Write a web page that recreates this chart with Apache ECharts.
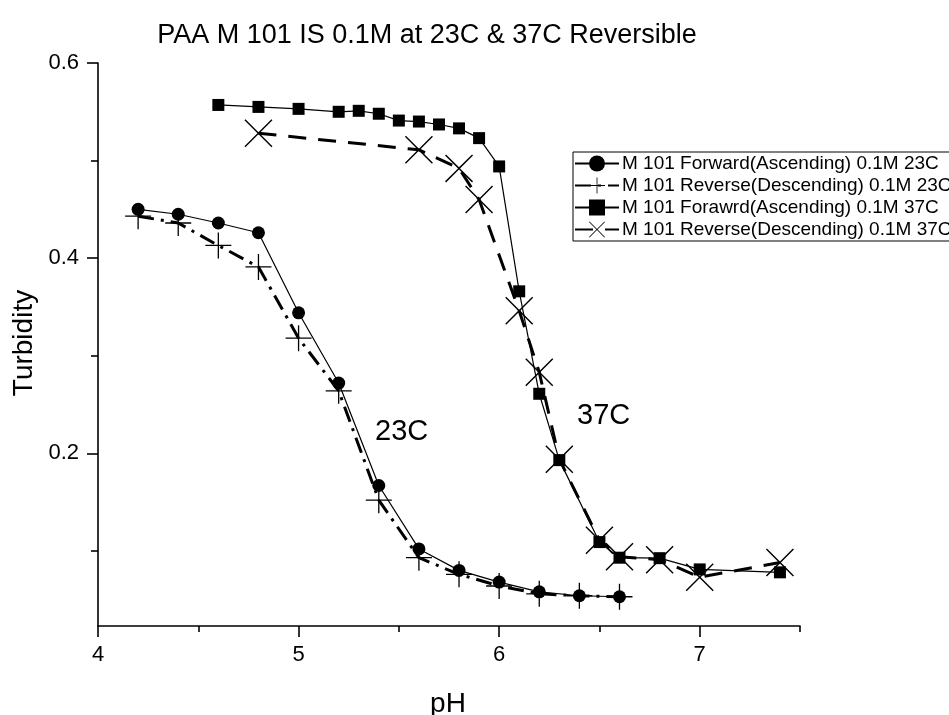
<!DOCTYPE html>
<html>
<head>
<meta charset="utf-8">
<script src="https://cdn.jsdelivr.net/npm/echarts@6/dist/echarts.min.js"></script>
<style>html,body{margin:0;padding:0;background:#fff;}#c{width:949px;height:715px;}</style>
</head>
<body>
<div id="c"></div>
<script>
// ---- data ----
const ph23 = [4.2, 4.4, 4.6, 4.8, 5.0, 5.2, 5.4, 5.6, 5.8, 6.0, 6.2, 6.4, 6.6];
const fwd23 = [0.450, 0.445, 0.436, 0.426, 0.344, 0.272, 0.167, 0.102, 0.080, 0.068, 0.058, 0.054, 0.053];
const rev23 = [0.443, 0.436, 0.413, 0.391, 0.318, 0.264, 0.152, 0.093, 0.076, 0.064, 0.056, 0.054, 0.053];
const phFwd37 = [4.6, 4.8, 5.0, 5.2, 5.3, 5.4, 5.5, 5.6, 5.7, 5.8, 5.9, 6.0, 6.1, 6.2, 6.3, 6.5, 6.6, 6.8, 7.0, 7.4];
const fwd37 = [0.557, 0.555, 0.553, 0.550, 0.551, 0.548, 0.541, 0.540, 0.537, 0.533, 0.523, 0.494, 0.366, 0.261, 0.193, 0.109, 0.093, 0.0925, 0.081, 0.078];
const phRev37 = [4.8, 5.6, 5.8, 5.9, 6.1, 6.2, 6.3, 6.5, 6.6, 6.8, 7.0, 7.4];
const rev37 = [0.528, 0.511, 0.492, 0.460, 0.346, 0.283, 0.194, 0.111, 0.094, 0.091, 0.073, 0.088];
const seriesNames = [
  'M 101 Forward(Ascending) 0.1M 23C',
  'M 101 Reverse(Descending) 0.1M 23C',
  'M 101 Forawrd(Ascending) 0.1M 37C',
  'M 101 Reverse(Descending) 0.1M 37C'
];
const xMajor = [4, 5, 6, 7];
const xMinor = [4.5, 5.5, 6.5, 7.5];
const yMajor = [0.2, 0.4, 0.6];
const yMinor = [0.1, 0.3, 0.5];
const titleText = 'PAA M 101 IS 0.1M at 23C & 37C Reversible';
const xName = 'pH';
const yName = 'Turbidity';
const notes = ['23C', '37C'];

// ---- styling ----
const FONT = 'Liberation Sans, Arial, sans-serif';
const plusPath = 'path://M47.5,0H52.5V47.5H100V52.5H52.5V100H47.5V52.5H0V47.5H47.5Z';
const d = 3.6;
const xPath = `path://M0,${d}L${d},0L50,${50 - d}L${100 - d},0L100,${d}L${50 + d},50L100,${100 - d}L${100 - d},100L50,${50 + d}L${d},100L0,${100 - d}L${50 - d},50Z`;

function pairs(xs, ys) { return xs.map((x, i) => [x, ys[i]]); }

const chart = echarts.init(document.getElementById('c'), null, { renderer: 'canvas' });
const axisCommon = { min: 4, max: 7.5, type: 'value' };
const yCommon = { min: 0.023, max: 0.6, type: 'value' };

chart.setOption({
  animation: false,
  backgroundColor: '#fff',
  textStyle: { fontFamily: FONT, color: '#000' },
  title: {
    text: titleText, left: 422, top: 17, textAlign: 'center',
    textStyle: { fontFamily: FONT, fontSize: 27, fontWeight: 'normal', color: '#000' }
  },
  grid: { left: 98, right: 149, top: 63, bottom: 89, containLabel: false },
  xAxis: [
    Object.assign({}, axisCommon, {
      position: 'bottom',
      axisLine: { show: true, lineStyle: { color: '#000', width: 1.6 } },
      axisTick: { show: true, customValues: xMajor, length: 11, lineStyle: { color: '#000', width: 1.6 } },
      axisLabel: { show: true, customValues: xMajor, margin: 18, fontFamily: FONT, fontSize: 22, color: '#000' },
      splitLine: { show: false }
    }),
    Object.assign({}, axisCommon, {
      position: 'bottom',
      axisLine: { show: false },
      axisTick: { show: true, customValues: xMinor, length: 6, lineStyle: { color: '#000', width: 1.6 } },
      axisLabel: { show: false },
      splitLine: { show: false }
    })
  ],
  yAxis: [
    Object.assign({}, yCommon, {
      position: 'left',
      axisLine: { show: true, lineStyle: { color: '#000', width: 1.6 } },
      axisTick: { show: true, customValues: yMajor, length: 11, lineStyle: { color: '#000', width: 1.6 } },
      axisLabel: { show: true, customValues: yMajor, margin: 19, fontFamily: FONT, fontSize: 22, color: '#000' },
      splitLine: { show: false }
    }),
    Object.assign({}, yCommon, {
      position: 'left',
      axisLine: { show: false },
      axisTick: { show: true, customValues: yMinor, length: 7, lineStyle: { color: '#000', width: 1.6 } },
      axisLabel: { show: false },
      splitLine: { show: false }
    })
  ],
  legend: {
    left: 573, top: 152, orient: 'vertical',
    itemWidth: 44, itemHeight: 20, itemGap: 3,
    padding: [2, 6, 2, 1],
    borderColor: '#000', borderWidth: 1,
    textStyle: { fontFamily: FONT, fontSize: 19, color: '#000', padding: [0, 0, 0, -2] },
    data: seriesNames
  },
  graphic: [
    { type: 'text', x: 24, y: 343, rotation: Math.PI / 2,
      style: { text: yName, font: '28px ' + FONT, fill: '#000', textAlign: 'center', textVerticalAlign: 'middle' } },
    { type: 'text', x: 448, y: 704,
      style: { text: xName, font: '28px ' + FONT, fill: '#000', textAlign: 'center', textVerticalAlign: 'middle' } },
    { type: 'text', x: 375, y: 432,
      style: { text: notes[0], font: '29px ' + FONT, fill: '#000', textAlign: 'left', textVerticalAlign: 'middle' } },
    { type: 'text', x: 577, y: 416,
      style: { text: notes[1], font: '29px ' + FONT, fill: '#000', textAlign: 'left', textVerticalAlign: 'middle' } }
  ],
  series: [
    {
      name: seriesNames[0], type: 'line', data: pairs(ph23, fwd23),
      symbol: 'circle', symbolSize: 13, z: 4,
      lineStyle: { color: '#000', width: 1.2, type: 'solid' },
      itemStyle: { color: '#000', borderWidth: 0 }
    },
    {
      name: seriesNames[1], type: 'line', data: pairs(ph23, rev23),
      symbol: plusPath, symbolSize: 26, z: 3,
      lineStyle: { color: '#000', width: 3, type: [16, 7, 3, 7] },
      itemStyle: { color: '#000', borderWidth: 0 }
    },
    {
      name: seriesNames[2], type: 'line', data: pairs(phFwd37, fwd37),
      symbol: 'rect', symbolSize: 12, z: 4,
      lineStyle: { color: '#000', width: 1.2, type: 'solid' },
      itemStyle: { color: '#000', borderWidth: 0 }
    },
    {
      name: seriesNames[3], type: 'line', data: pairs(phRev37, rev37),
      symbol: xPath, symbolSize: 28, z: 3,
      lineStyle: { color: '#000', width: 3, type: [18, 12] },
      itemStyle: { color: '#000', borderWidth: 0 }
    }
  ]
});
</script>
</body>
</html>
